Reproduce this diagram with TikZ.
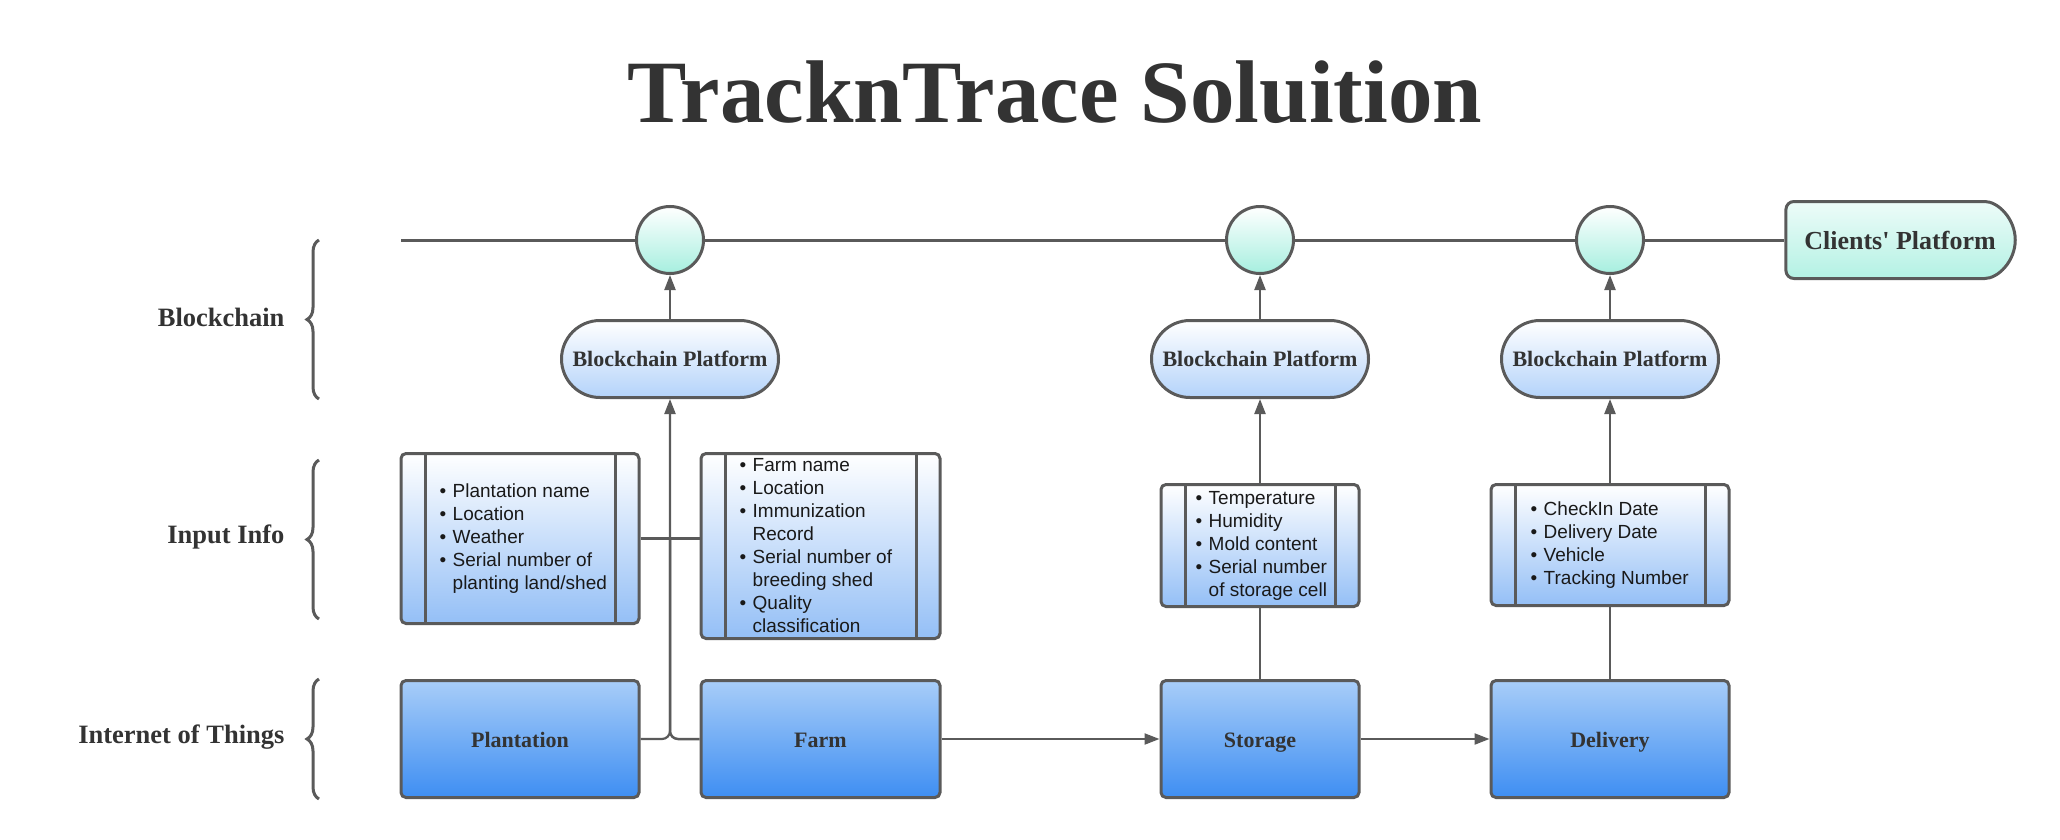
\documentclass[tikz,border=0pt]{standalone}
\usepackage{fontspec}
\setmainfont{Liberation Serif}
\setsansfont{Liberation Sans}
\usetikzlibrary{shapes.misc, arrows.meta, positioning, calc, decorations.pathreplacing}
\definecolor{tntgray}{HTML}{5A5A5A}
\definecolor{tnttext}{HTML}{333333}
\definecolor{tntmint}{HTML}{A6EFDF}
\definecolor{tntpale}{HTML}{B4D3FA}
\definecolor{tntsky}{HTML}{A8CDF8}
\definecolor{tntblue}{HTML}{3E8EF2}
\definecolor{tntinfo}{HTML}{94BFF6}

\newcommand{\itm}[1]{\makebox[13pt][l]{\textbullet}#1}
\newcommand{\itc}[1]{\hspace*{13pt}#1}

\begin{document}
\begin{tikzpicture}[
    x=1pt, y=-1pt,
    title/.style={font=\bfseries\fontsize{89}{100}\selectfont, text=tnttext},
    layer/.style={font=\bfseries\fontsize{26.5}{30}\selectfont, text=tnttext, anchor=east},
    iot/.style={rectangle, draw=tntgray, line width=3pt, rounded corners=5pt, top color=tntsky, bottom color=tntblue, minimum height=117pt, text height=17pt, text depth=0pt, font=\bfseries\fontsize{22}{26}\selectfont, text=tnttext},
    infobox/.style={rectangle, draw=tntgray, line width=3pt, rounded corners=5pt, top color=white, bottom color=tntinfo,
      path picture={\draw[tntgray, line width=3pt]
        ([xshift=24pt]path picture bounding box.north west) -- ([xshift=24pt]path picture bounding box.south west)
        ([xshift=-24pt]path picture bounding box.north east) -- ([xshift=-24pt]path picture bounding box.south east);}},
    bullets/.style={font=\sffamily\fontsize{19}{23}\selectfont, align=left, anchor=west, inner sep=0pt, text=black!90},
    platform/.style={rectangle, draw=tntgray, line width=3pt, rounded corners=38.5pt, top color=white, bottom color=tntpale, minimum width=217pt, minimum height=77pt, font=\bfseries\fontsize{22}{26}\selectfont, text=tnttext},
    block/.style={circle, draw=tntgray, line width=3pt, top color=white, bottom color=tntmint, minimum size=67pt, inner sep=0pt},
    client/.style={rounded rectangle, rounded rectangle left arc=none, rounded corners=8pt, draw=tntgray, line width=3pt, top color=tntmint!20!white, bottom color=tntmint!85!white, minimum width=236pt, minimum height=77pt, font=\bfseries\fontsize{26}{30}\selectfont, text=tnttext},
    arr/.style={-{Triangle[length=15pt, width=11pt]}, line width=2.2pt, tntgray},
    conn/.style={line width=2.5pt, tntgray},
    chain/.style={line width=3pt, tntgray},
    curly/.style={decorate, decoration={brace, amplitude=12pt}, line width=3pt, tntgray}
  ]
  \useasboundingbox (0,0) rectangle (2060,840);

  \node[title, anchor=base] (title) at (1055,122) {TracknTrace Soluition};

  % internet of things
  \node[iot, minimum width=238pt] (plant) at (520,739) {Plantation};
  \node[iot, minimum width=239pt, right=59pt of plant] (farm) {Farm};
  \node[iot, minimum width=198pt, right=218pt of farm] (store) {Storage};
  \node[iot, minimum width=238pt, right=129pt of store] (deliv) {Delivery};

  % input info
  \node[infobox, minimum width=238pt, minimum height=170pt, above=54pt of plant] (info1) {};
  \node[infobox, minimum width=239pt, minimum height=185pt, above=39pt of farm] (info2) {};
  \node[infobox, minimum width=198pt, minimum height=122pt, above=71pt of store] (info3) {};
  \node[infobox, minimum width=238pt, minimum height=121pt, above=72pt of deliv] (info4) {};

  \node[bullets] (list1) at ([xshift=40pt]info1.west) {\itm{Plantation name}\\ \itm{Location}\\ \itm{Weather}\\ \itm{Serial number of}\\ \itc{planting land/shed}};
  \node[bullets] (list2) at ([xshift=40pt]info2.west) {\itm{Farm name}\\ \itm{Location}\\ \itm{Immunization}\\ \itc{Record}\\ \itm{Serial number of}\\ \itc{breeding shed}\\ \itm{Quality}\\ \itc{classification}};
  \node[bullets] (list3) at ([xshift=36pt]info3.west) {\itm{Temperature}\\ \itm{Humidity}\\ \itm{Mold content}\\ \itm{Serial number}\\ \itc{of storage cell}};
  \node[bullets] (list4) at ([xshift=41pt]info4.west) {\itm{CheckIn Date}\\ \itm{Delivery Date}\\ \itm{Vehicle}\\ \itm{Tracking Number}};

  % blockchain
  \node[platform] (bp1) at (670,359) {Blockchain Platform};
  \node[platform, above=84pt of info3] (bp2) {Blockchain Platform};
  \node[platform, above=84pt of info4] (bp3) {Blockchain Platform};

  \node[block, above=44pt of bp1] (c1) {};
  \node[block, above=44pt of bp2] (c2) {};
  \node[block, above=44pt of bp3] (c3) {};
  \node[client] (client) at (1900,240) {Clients\textquotesingle\ Platform};
  \coordinate (chainstart) at (401,240);

  % layers
  \node[layer] (lchain) at (288,317) {Blockchain};
  \node[layer] (linfo) at (288,537) {Input Info};
  \node[layer] (liot) at (288,737) {Internet of Things};
  \draw[curly] (319,399) -- (319,240);
  \draw[curly] (319,619) -- (319,460);
  \draw[curly] (319,799) -- (319,679);

  % connectors
  \draw[chain] (chainstart) -- (c1);
  \draw[chain] (c1) -- (c2);
  \draw[chain] (c2) -- (c3);
  \draw[chain] (c3) -- (client);

  \draw[arr] (bp1) -- (c1);
  \draw[arr] (bp2) -- (c2);
  \draw[arr] (bp3) -- (c3);

  \draw[arr, rounded corners=8pt] (plant.east) -| (bp1.south);
  \draw[conn, rounded corners=8pt] (farm.west) -| (info1.east -| bp1.south);
  \draw[conn] (info1.east) -- (info1.east -| info2.west);

  \draw[conn] (store) -- (info3);
  \draw[conn] (deliv) -- (info4);
  \draw[arr] (info3) -- (bp2);
  \draw[arr] (info4) -- (bp3);

  \draw[arr] (farm) -- (store);
  \draw[arr] (store) -- (deliv);
\end{tikzpicture}
\end{document}
